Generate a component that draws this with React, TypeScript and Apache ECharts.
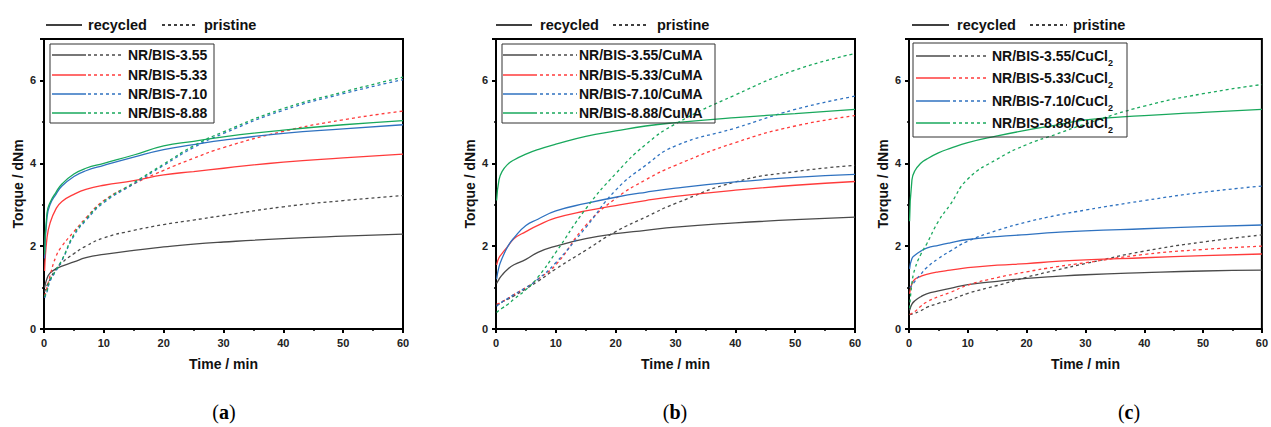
import React, { useEffect, useRef } from "react";
import * as echarts from "echarts";

// ---- data ----
const TIME = [0.1, 0.5, 1, 2, 3, 5, 7, 10, 15, 20, 25, 30, 40, 50, 60];
const SAMPLES = ["NR/BIS-3.55", "NR/BIS-5.33", "NR/BIS-7.10", "NR/BIS-8.88"];
const SUFFIXES = ["", "/CuMA", "/CuCl{s|2}"];
const PANEL_LABELS = ["a", "b", "c"];
const X_TICKS = [0, 10, 20, 30, 40, 50, 60];
const Y_TICKS = [0, 2, 4, 6];

// panel (a) recycled
const A_REC_355 = [1.0, 1.22, 1.35, 1.45, 1.52, 1.62, 1.72, 1.8, 1.9, 1.98, 2.05, 2.1, 2.18, 2.24, 2.29];
const A_REC_533 = [1.4, 2.2, 2.55, 2.9, 3.08, 3.25, 3.37, 3.47, 3.58, 3.72, 3.8, 3.88, 4.03, 4.13, 4.22];
const A_REC_710 = [1.7, 2.7, 3.0, 3.25, 3.45, 3.68, 3.82, 3.95, 4.15, 4.33, 4.45, 4.56, 4.72, 4.83, 4.93];
const A_REC_888 = [1.8, 2.8, 3.05, 3.3, 3.5, 3.74, 3.88, 4.0, 4.2, 4.42, 4.53, 4.64, 4.8, 4.93, 5.03];
// panel (a) pristine
const A_PRI_355 = [0.9, 1.05, 1.2, 1.45, 1.6, 1.82, 2.0, 2.2, 2.38, 2.52, 2.63, 2.74, 2.95, 3.1, 3.22];
const A_PRI_533 = [0.8, 1.0, 1.28, 1.75, 2.0, 2.35, 2.68, 3.1, 3.5, 3.83, 4.12, 4.38, 4.77, 5.05, 5.26];
const A_PRI_710 = [0.75, 0.9, 1.15, 1.4, 1.65, 2.25, 2.62, 3.05, 3.5, 3.95, 4.38, 4.72, 5.28, 5.68, 6.02];
const A_PRI_888 = [0.78, 0.92, 1.18, 1.42, 1.67, 2.28, 2.65, 3.08, 3.53, 3.98, 4.42, 4.76, 5.32, 5.72, 6.08];

// panel (b) recycled
const B_REC_355 = [1.1, 1.2, 1.3, 1.45, 1.55, 1.68, 1.85, 2.0, 2.18, 2.3, 2.38, 2.46, 2.56, 2.64, 2.7];
const B_REC_533 = [1.55, 1.72, 1.82, 2.0, 2.18, 2.35, 2.5, 2.68, 2.85, 2.98, 3.1, 3.2, 3.35, 3.47, 3.56];
const B_REC_710 = [1.2, 1.5, 1.7, 2.0, 2.2, 2.5, 2.65, 2.85, 3.03, 3.18, 3.3, 3.4, 3.55, 3.66, 3.73];
const B_REC_888 = [3.1, 3.6, 3.8, 3.98, 4.08, 4.22, 4.33, 4.46, 4.65, 4.78, 4.9, 4.98, 5.1, 5.2, 5.3];
// panel (b) pristine
const B_PRI_355 = [0.58, 0.6, 0.65, 0.72, 0.8, 0.97, 1.15, 1.45, 1.9, 2.35, 2.7, 3.03, 3.55, 3.8, 3.95];
const B_PRI_533 = [0.6, 0.62, 0.66, 0.74, 0.83, 1.0, 1.2, 1.55, 2.5, 3.15, 3.6, 3.95, 4.5, 4.9, 5.15];
const B_PRI_710 = [0.55, 0.6, 0.65, 0.74, 0.83, 1.0, 1.2, 1.6, 2.45, 3.35, 3.95, 4.42, 4.85, 5.3, 5.62];
const B_PRI_888 = [0.4, 0.45, 0.5, 0.6, 0.72, 0.95, 1.25, 1.85, 2.9, 3.75, 4.45, 4.95, 5.65, 6.25, 6.65];

// panel (c) recycled
const C_REC_355 = [0.45, 0.6, 0.68, 0.78, 0.85, 0.92, 0.98, 1.07, 1.15, 1.22, 1.27, 1.31, 1.36, 1.4, 1.42];
const C_REC_533 = [0.85, 1.1, 1.2, 1.27, 1.32, 1.38, 1.42, 1.48, 1.54, 1.58, 1.63, 1.67, 1.72, 1.77, 1.81];
const C_REC_710 = [1.45, 1.7, 1.78, 1.88, 1.95, 2.02, 2.08, 2.16, 2.23, 2.28, 2.33, 2.37, 2.42, 2.47, 2.51];
const C_REC_888 = [2.6, 3.6, 3.82, 4.0, 4.1, 4.25, 4.36, 4.5, 4.66, 4.8, 4.92, 5.05, 5.15, 5.23, 5.3];
// panel (c) pristine
const C_PRI_355 = [0.35, 0.36, 0.38, 0.44, 0.52, 0.62, 0.7, 0.86, 1.05, 1.25, 1.42, 1.58, 1.88, 2.1, 2.27];
const C_PRI_533 = [0.35, 0.38, 0.42, 0.55, 0.65, 0.78, 0.88, 1.06, 1.24, 1.38, 1.5, 1.6, 1.8, 1.92, 2.0];
const C_PRI_710 = [1.0, 1.05, 1.15, 1.32, 1.48, 1.7, 1.88, 2.12, 2.38, 2.58, 2.74, 2.87, 3.1, 3.3, 3.45];
const C_PRI_888 = [0.5, 1.1, 1.45, 1.8, 2.05, 2.6, 3.0, 3.62, 4.1, 4.45, 4.7, 4.95, 5.38, 5.68, 5.9];

const RECYCLED = [
  [A_REC_355, A_REC_533, A_REC_710, A_REC_888],
  [B_REC_355, B_REC_533, B_REC_710, B_REC_888],
  [C_REC_355, C_REC_533, C_REC_710, C_REC_888],
];
const PRISTINE = [
  [A_PRI_355, A_PRI_533, A_PRI_710, A_PRI_888],
  [B_PRI_355, B_PRI_533, B_PRI_710, B_PRI_888],
  [C_PRI_355, C_PRI_533, C_PRI_710, C_PRI_888],
];

// ---- styles / layout ----
const COLORS = ["#4a4a4a", "#ff3b3b", "#2f72c0", "#18a85c"];
const FONT = 'Arial, "Liberation Sans", sans-serif';
const GRIDS = [
  { left: 44, top: 39, width: 359, height: 290 },
  { left: 496, top: 39, width: 359, height: 290 },
  { left: 909, top: 39, width: 361, height: 290 },
];
const TOP_LEG = [
  { solid: [46, 82], recX: 88, dash: [162, 197], priX: 204 },
  { solid: [496, 532], recX: 540, dash: [613, 648], priX: 657 },
  { solid: [912, 949], recX: 957, dash: [1030, 1067], priX: 1073 },
];
const IN_LEG = [
  { box: [50, 44, 164, 79], solid: [52, 86], dash: [88, 121], textX: 128, rows: [55, 75, 94, 113] },
  { box: [502, 44, 213, 79], solid: [503, 537], dash: [540, 577], textX: 579, rows: [55, 75, 94, 113] },
  { box: [913, 43, 214, 94], solid: [916, 950], dash: [953, 988], textX: 992, rows: [56, 78, 101, 123] },
];
const CAPTION_X = [224, 675, 1129];

function buildOption() {
  const series: any[] = [];
  const graphic: any[] = [];
  for (let p = 0; p < 3; p++) {
    for (let i = 0; i < 4; i++) {
      const name = SAMPLES[i] + SUFFIXES[p].replace("{s|2}", "2");
      series.push({
        type: "line",
        name: name + " recycled",
        xAxisIndex: p,
        yAxisIndex: p,
        data: TIME.map((t, k) => [t, RECYCLED[p][i][k]]),
        showSymbol: false,
        smooth: 0.5,
        lineStyle: { color: COLORS[i], width: 1.3, type: "solid" },
        z: 3,
      });
      series.push({
        type: "line",
        name: name + " pristine",
        xAxisIndex: p,
        yAxisIndex: p,
        data: TIME.map((t, k) => [t, PRISTINE[p][i][k]]),
        showSymbol: false,
        smooth: 0.5,
        lineStyle: { color: COLORS[i], width: 1.3, type: [3, 3] },
        z: 3,
      });
    }

    // top legend
    const tl = TOP_LEG[p];
    graphic.push({ type: "line", shape: { x1: tl.solid[0], y1: 25, x2: tl.solid[1], y2: 25 }, style: { stroke: "#000", lineWidth: 1.3 } });
    graphic.push({ type: "text", x: tl.recX, y: 25, style: { text: "recycled", fontSize: 14.5, fontWeight: "bold", fontFamily: FONT, fill: "#111", verticalAlign: "middle" } });
    graphic.push({ type: "line", shape: { x1: tl.dash[0], y1: 25, x2: tl.dash[1], y2: 25 }, style: { stroke: "#000", lineWidth: 1.3, lineDash: [3, 3] } });
    graphic.push({ type: "text", x: tl.priX, y: 25, style: { text: "pristine", fontSize: 14.5, fontWeight: "bold", fontFamily: FONT, fill: "#111", verticalAlign: "middle" } });

    // inner legend
    const il = IN_LEG[p];
    graphic.push({ type: "rect", shape: { x: il.box[0], y: il.box[1], width: il.box[2], height: il.box[3] }, style: { fill: "none", stroke: "#333", lineWidth: 1 }, z: 10 });
    for (let i = 0; i < 4; i++) {
      const y = il.rows[i];
      graphic.push({ type: "line", shape: { x1: il.solid[0], y1: y, x2: il.solid[1], y2: y }, style: { stroke: COLORS[i], lineWidth: 1.3 }, z: 10 });
      graphic.push({ type: "line", shape: { x1: il.dash[0], y1: y, x2: il.dash[1], y2: y }, style: { stroke: COLORS[i], lineWidth: 1.3, lineDash: [3, 3] }, z: 10 });
      const hasSub = SUFFIXES[p].indexOf("{s|") >= 0;
      if (hasSub) {
        graphic.push({
          type: "text", x: il.textX, y: y + 2, z: 10,
          style: {
            text: "{m|" + SAMPLES[i] + SUFFIXES[p].replace("{s|2}", "}{s|2}"),
            verticalAlign: "middle",
            rich: {
              m: { fontSize: 14, fontWeight: "bold", fontFamily: FONT, fill: "#111", lineHeight: 18, verticalAlign: "top" },
              s: { fontSize: 9, fontWeight: "bold", fontFamily: FONT, fill: "#111", verticalAlign: "bottom" },
            },
          },
        });
      } else {
        graphic.push({
          type: "text", x: il.textX, y, z: 10,
          style: { text: SAMPLES[i] + SUFFIXES[p], fontSize: 14, fontWeight: "bold", fontFamily: FONT, fill: "#111", verticalAlign: "middle" },
        });
      }
    }

    // caption
    graphic.push({
      type: "text", x: CAPTION_X[p], y: 412,
      style: {
        text: "{r|(}{b|" + PANEL_LABELS[p] + "}{r|)}",
        align: "center", verticalAlign: "middle",
        rich: {
          r: { fontSize: 20, fontFamily: '"Liberation Serif", serif', fill: "#000" },
          b: { fontSize: 20, fontWeight: "bold", fontFamily: '"Liberation Serif", serif', fill: "#000" },
        },
      },
    });
  }

  const axisCommon = {
    type: "value",
    axisLine: { show: true, lineStyle: { color: "#000", width: 2 } },
    axisTick: { show: true, inside: false, length: 4, lineStyle: { color: "#000", width: 2 } },
    minorTick: { show: true, splitNumber: 2, length: 2, lineStyle: { color: "#000", width: 1.5 } },
    splitLine: { show: false },
    minorSplitLine: { show: false },
    nameLocation: "middle",
    nameTextStyle: { fontSize: 14, fontWeight: "bold", fontFamily: FONT, color: "#111" },
  };

  return {
    animation: false,
    backgroundColor: "#fff",
    grid: GRIDS.map((g) => ({ ...g, show: true, borderColor: "#000", borderWidth: 2, backgroundColor: "transparent" })),
    xAxis: GRIDS.map((_, p) => ({
      ...axisCommon,
      gridIndex: p,
      min: X_TICKS[0],
      max: X_TICKS[X_TICKS.length - 1],
      interval: X_TICKS[1] - X_TICKS[0],
      name: "Time / min",
      nameGap: 28,
      axisLabel: { fontSize: 11, fontWeight: "bold", fontFamily: FONT, color: "#222", margin: 8 },
    })),
    yAxis: GRIDS.map((_, p) => ({
      ...axisCommon,
      gridIndex: p,
      min: Y_TICKS[0],
      max: 7,
      interval: Y_TICKS[1] - Y_TICKS[0],
      name: "Torque / dNm",
      nameGap: 19,
      nameRotate: 90,
      axisLabel: {
        fontSize: 11, fontWeight: "bold", fontFamily: FONT, color: "#222", margin: 8,
        formatter: (v: number) => (Y_TICKS.indexOf(v) >= 0 ? String(v) : ""),
      },
    })),
    series,
    graphic,
  };
}

export default function App() {
  const ref = useRef<HTMLDivElement>(null);
  useEffect(() => {
    if (!ref.current) return;
    const chart = echarts.init(ref.current, undefined, { renderer: "svg" });
    chart.setOption(buildOption() as any);
    return () => chart.dispose();
  }, []);
  return (
    <div
      ref={ref}
      style={{ position: "absolute", left: 0, top: 0, width: 1271, height: 427, background: "#fff" }}
    />
  );
}
